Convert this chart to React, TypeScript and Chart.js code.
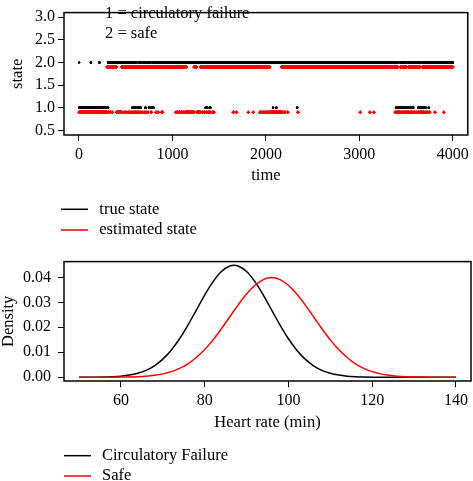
import React, { useEffect, useRef } from "react";
import { Chart, registerables } from "chart.js";

Chart.register(...registerables);

const FONT = "'Liberation Serif', 'Times New Roman', serif";

// ---------- Top panel data (state over time) ----------
const TIME_STEPS = 4000;
// time intervals where the TRUE state is 1 (circulatory failure); otherwise 2 (safe)
const TRUE_FAILURE_RUNS: [number, number][] = [
  [3, 125], [129, 216], [221, 312],
  [571, 576], [585, 590], [600, 606], [618, 641], [655, 660], [710, 713], [748, 756], [762, 783], [790, 797],
  [1354, 1358], [1368, 1374], [1400, 1407],
  [2076, 2078], [2111, 2113], [2333, 2336],
  [3393, 3400], [3412, 3437], [3448, 3453], [3462, 3467], [3476, 3481], [3490, 3494], [3508, 3526],
  [3540, 3545], [3556, 3561], [3572, 3577], [3630, 3635], [3650, 3672], [3690, 3695], [3705, 3710], [3742, 3745],
];
// time intervals where the ESTIMATED state is 1; otherwise 2
const ESTIMATED_FAILURE_RUNS: [number, number][] = [
  [1, 300], [310, 318], [335, 340], [355, 360], [402, 455], [470, 472], [490, 493], [505, 508],
  [525, 530], [545, 550], [565, 570], [585, 590], [600, 606], [618, 626], [640, 645], [660, 664],
  [680, 684], [700, 705], [718, 722], [738, 741], [770, 775],
  [825, 828], [845, 848], [885, 896],
  [1037, 1042], [1055, 1060], [1075, 1080], [1095, 1100], [1115, 1120], [1135, 1140], [1150, 1231],
  [1259, 1302], [1320, 1325], [1340, 1345], [1362, 1370], [1385, 1390], [1400, 1407], [1425, 1428], [1440, 1445],
  [1650, 1656], [1683, 1688], [1811, 1814], [1864, 1867],
  [1936, 1940], [1950, 1956], [1970, 1975], [1990, 1995], [2008, 2013], [2025, 2032], [2042, 2165],
  [2175, 2183], [2200, 2205], [2230, 2236], [2340, 2344],
  [3009, 3012], [3111, 3114], [3153, 3156],
  [3383, 3390], [3400, 3405], [3412, 3437], [3450, 3455], [3465, 3470], [3480, 3485], [3495, 3500],
  [3508, 3526], [3540, 3545], [3555, 3560], [3570, 3575], [3590, 3595], [3610, 3615], [3630, 3635],
  [3650, 3672], [3685, 3690], [3700, 3705], [3720, 3725], [3745, 3753],
  [3806, 3809], [3901, 3904],
];
const ESTIMATED_OFFSET = 0.1; // estimated state plotted 0.1 below the true state
const TIME_TICKS = [0, 1000, 2000, 3000, 4000];
const STATE_TICKS = [0.5, 1.0, 1.5, 2.0, 2.5, 3.0];
const STATE_NOTES = ["1 = circulatory failure", "2 = safe"];
const TOP_LEGEND = ["true state", "estimated state"];

// ---------- Bottom panel data (densities) ----------
const HEART_RATE = [
  50, 52, 54, 56, 58, 60, 62, 64, 66, 68, 70, 72, 74, 76, 78, 80, 82, 84, 86, 87,
  88, 90, 92, 94, 96, 98, 100, 102, 104, 106, 108, 110, 112, 114, 116, 118, 120,
  122, 124, 126, 128, 130, 132, 134, 136, 138, 140,
];
const DENSITY_FAILURE = [
  0.000008, 0.00002, 0.000046, 0.000104, 0.000222, 0.00045, 0.000867, 0.00159, 0.00277, 0.00459,
  0.00724, 0.01084, 0.01543, 0.02089, 0.02688, 0.03291, 0.03829, 0.04236, 0.04455, 0.04483,
  0.04455, 0.04236, 0.03829, 0.03291, 0.02688, 0.02089, 0.01543, 0.01084, 0.00724, 0.00459,
  0.00277, 0.00159, 0.000867, 0.00045, 0.000222, 0.000104, 0.000046, 0.00002, 0.000008,
  0.000003, 0.000001, 0, 0, 0, 0, 0, 0,
];
const DENSITY_SAFE = [
  0.000001, 0.0000025, 0.0000059, 0.0000134, 0.0000292, 0.0000612, 0.000123, 0.000238, 0.000443, 0.000792,
  0.001358, 0.002239, 0.003547, 0.005399, 0.007895, 0.01109, 0.01497, 0.01942, 0.0242, 0.02661,
  0.02897, 0.03332, 0.03682, 0.0391, 0.03989, 0.0391, 0.03682, 0.03332, 0.02897, 0.0242,
  0.01942, 0.01497, 0.01109, 0.007895, 0.005399, 0.003547, 0.002239, 0.001358, 0.000792,
  0.000443, 0.000238, 0.000123, 0.0000612, 0.0000292, 0.0000134, 0.0000059, 0.0000025,
];
const HR_TICKS = [60, 80, 100, 120, 140];
const DENSITY_TICKS = [0, 0.01, 0.02, 0.03, 0.04];
const BOTTOM_LEGEND = ["Circulatory Failure", "Safe"];

const BLACK = "#000000";
const RED = "#ff0000";

function expandRuns(runs: [number, number][], steps: number): number[] {
  const out: number[] = [];
  for (let t = 1; t <= steps; t++) {
    let s = 2;
    for (const [a, b] of runs) {
      if (t >= a && t <= b) { s = 1; break; }
    }
    out.push(s);
  }
  return out;
}

const boxPlugin = {
  id: "rbox",
  afterDraw(chart: any) {
    const { ctx, chartArea: a } = chart;
    ctx.save();
    ctx.strokeStyle = BLACK;
    ctx.lineWidth = 1.5;
    ctx.strokeRect(a.left, a.top, a.right - a.left, a.bottom - a.top);
    ctx.restore();
  },
};

function legendPlugin(id: string, items: { text: string; color: string; y: number }[], lineX0: number, lineX1: number, textX: number, notes?: { text: string; x: number; y: number }[]) {
  return {
    id,
    afterDraw(chart: any) {
      const { ctx } = chart;
      ctx.save();
      ctx.font = `16.5px ${FONT}`;
      ctx.textBaseline = "middle";
      ctx.textAlign = "left";
      for (const it of items) {
        ctx.strokeStyle = it.color;
        ctx.lineWidth = 1.5;
        ctx.beginPath();
        ctx.moveTo(lineX0, it.y);
        ctx.lineTo(lineX1, it.y);
        ctx.stroke();
        ctx.fillStyle = BLACK;
        ctx.fillText(it.text, textX, it.y);
      }
      if (notes) {
        for (const n of notes) {
          ctx.fillStyle = BLACK;
          ctx.fillText(n.text, n.x, n.y);
        }
      }
      ctx.restore();
    },
  };
}

const tickFont = { family: FONT, size: 16 };
const titleFont = { family: FONT, size: 16.5, lineHeight: 1 };

function StateChart() {
  const ref = useRef<HTMLCanvasElement>(null);
  useEffect(() => {
    const trueStates = expandRuns(TRUE_FAILURE_RUNS, TIME_STEPS);
    const estStates = expandRuns(ESTIMATED_FAILURE_RUNS, TIME_STEPS);
    const trueData = trueStates.map((s, i) => ({ x: i + 1, y: s }));
    const estData = estStates.map((s, i) => ({ x: i + 1, y: s - ESTIMATED_OFFSET }));
    const chart = new Chart(ref.current!, {
      type: "scatter",
      data: {
        datasets: [
          { data: estData, pointStyle: "cross", radius: 1.6, borderWidth: 1, borderColor: RED, backgroundColor: RED, showLine: false },
          { data: trueData, pointStyle: "circle", radius: 1.2, borderWidth: 0, backgroundColor: BLACK, borderColor: BLACK, showLine: false },
        ],
      },
      options: {
        animation: false,
        responsive: false,
        devicePixelRatio: 1,
        events: [],
        layout: { padding: { top: 1, right: 2, left: 0, bottom: 0 } },
        plugins: { legend: { display: false }, tooltip: { enabled: false } },
        scales: {
          x: {
            type: "linear",
            min: -160,
            max: 4160,
            afterBuildTicks: (s: any) => { s.ticks = TIME_TICKS.map((v) => ({ value: v })); },
            afterFit: (s: any) => { s.height = 110; },
            grid: { drawOnChartArea: false, drawTicks: true, tickLength: 6, color: BLACK, lineWidth: 1 },
            border: { display: false },
            ticks: { font: tickFont, color: BLACK, padding: 4, maxRotation: 0, autoSkip: false, callback: (v: any) => String(v) },
            title: { display: true, text: "time", font: titleFont, color: BLACK, padding: { top: 0, bottom: 61 } },
          },
          y: {
            type: "linear",
            min: 0.4,
            max: 3.1,
            afterBuildTicks: (s: any) => { s.ticks = STATE_TICKS.map((v) => ({ value: v })); },
            afterFit: (s: any) => { s.width = 64; },
            grid: { drawOnChartArea: false, drawTicks: true, tickLength: 6, color: BLACK, lineWidth: 1 },
            border: { display: false },
            ticks: { font: tickFont, color: BLACK, padding: 3, autoSkip: false, callback: (v: any) => Number(v).toFixed(1) },
            title: { display: true, text: "state", font: titleFont, color: BLACK, padding: { top: 9.5, bottom: 0 } },
          },
        },
      },
      plugins: [
        boxPlugin,
        legendPlugin(
          "topLegend",
          [
            { text: TOP_LEGEND[0], color: BLACK, y: 209.3 },
            { text: TOP_LEGEND[1], color: RED, y: 230 },
          ],
          61, 88, 99.3,
          [
            { text: STATE_NOTES[0], x: 105, y: 13.3 },
            { text: STATE_NOTES[1], x: 105, y: 33.3 },
          ]
        ),
      ],
    } as any);
    return () => chart.destroy();
  }, []);
  return <canvas ref={ref} width={473} height={245} style={{ position: "absolute", left: 0, top: 0, width: 473, height: 245 }} />;
}

function DensityChart() {
  const ref = useRef<HTMLCanvasElement>(null);
  useEffect(() => {
    const failure = HEART_RATE.map((x, i) => ({ x, y: DENSITY_FAILURE[i] }));
    const safe = HEART_RATE.map((x, i) => ({ x, y: DENSITY_SAFE[i] }));
    const chart = new Chart(ref.current!, {
      type: "line",
      data: {
        datasets: [
          { data: safe, borderColor: RED, borderWidth: 1.5, pointRadius: 0, fill: false, cubicInterpolationMode: "monotone" },
          { data: failure, borderColor: BLACK, borderWidth: 1.5, pointRadius: 0, fill: false, cubicInterpolationMode: "monotone" },
        ],
      },
      options: {
        animation: false,
        responsive: false,
        devicePixelRatio: 1,
        events: [],
        layout: { padding: { top: 3.3, right: 2, left: 0, bottom: 0 } },
        plugins: { legend: { display: false }, tooltip: { enabled: false } },
        scales: {
          x: {
            type: "linear",
            min: 46.4,
            max: 143.6,
            afterBuildTicks: (s: any) => { s.ticks = HR_TICKS.map((v) => ({ value: v })); },
            afterFit: (s: any) => { s.height = 100; },
            grid: { drawOnChartArea: false, drawTicks: true, tickLength: 6, color: BLACK, lineWidth: 1 },
            border: { display: false },
            ticks: { font: tickFont, color: BLACK, padding: 4, maxRotation: 0, autoSkip: false, callback: (v: any) => String(v) },
            title: { display: true, text: "Heart rate (min)", font: titleFont, color: BLACK, padding: { top: 0, bottom: 50.3 } },
          },
          y: {
            type: "linear",
            min: -0.0015,
            max: 0.0463,
            afterBuildTicks: (s: any) => { s.ticks = DENSITY_TICKS.map((v) => ({ value: v })); },
            afterFit: (s: any) => { s.width = 64; },
            grid: { drawOnChartArea: false, drawTicks: true, tickLength: 6, color: BLACK, lineWidth: 1 },
            border: { display: false },
            ticks: { font: tickFont, color: BLACK, padding: 7, autoSkip: false, callback: (v: any) => Number(v).toFixed(2) },
            title: { display: true, text: "Density", font: titleFont, color: BLACK, padding: { top: 0, bottom: 0 } },
          },
        },
      },
      plugins: [
        boxPlugin,
        legendPlugin(
          "bottomLegend",
          [
            { text: BOTTOM_LEGEND[0], color: BLACK, y: 210.7 },
            { text: BOTTOM_LEGEND[1], color: RED, y: 231 },
          ],
          64, 91, 102
        ),
      ],
    } as any);
    return () => chart.destroy();
  }, []);
  return <canvas ref={ref} width={473} height={236} style={{ position: "absolute", left: 0, top: 245, width: 473, height: 236 }} />;
}

export default function App() {
  return (
    <div style={{ position: "absolute", left: 0, top: 0, width: 473, height: 481, background: "#fff", overflow: "hidden" }}>
      <StateChart />
      <DensityChart />
    </div>
  );
}
